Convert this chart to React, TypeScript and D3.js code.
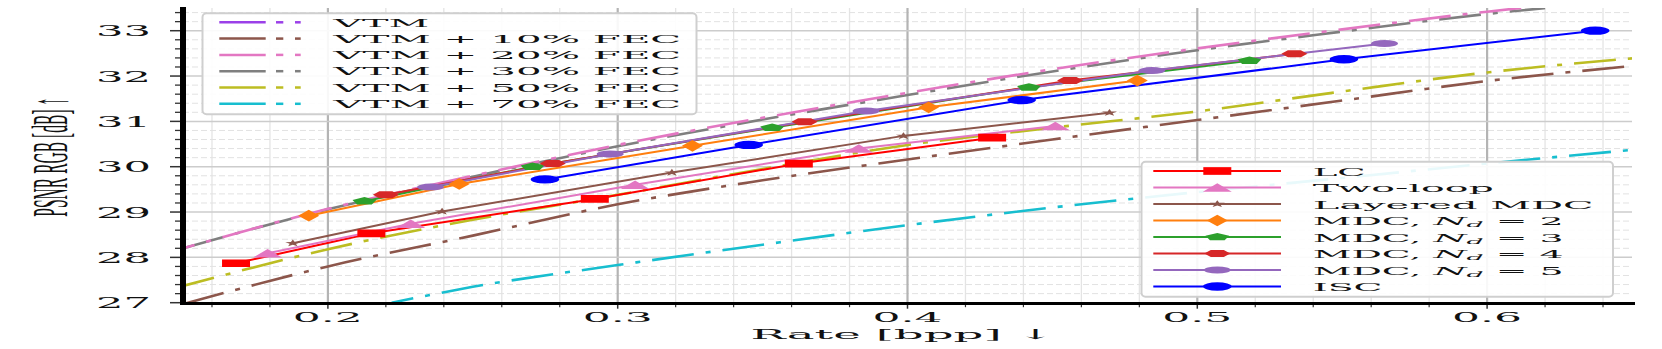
import React from 'react';
import * as d3 from 'd3';

// ---------- data ----------
const rateTicks = [0.2, 0.3, 0.4, 0.5, 0.6];
const rateTickLabels = ['0.2', '0.3', '0.4', '0.5', '0.6'];
const psnrTicks = [27, 28, 29, 30, 31, 32, 33];
const psnrTickLabels = ['27', '28', '29', '30', '31', '32', '33'];

// VTM + FEC reference curves (dash-dot)
const fec10Rate = [0.15, 0.2, 0.25, 0.3, 0.35, 0.4, 0.45, 0.5, 0.55, 0.6, 0.65];
const fec10Psnr = [26.97, 27.8, 28.48, 29.17, 29.7, 30.16, 30.6, 31.03, 31.46, 31.89, 32.22];
const fec20Rate = [0.15, 0.2, 0.25, 0.3, 0.35, 0.4, 0.45, 0.5, 0.55, 0.6, 0.62];
const fec20Psnr = [28.2, 29.07, 29.8, 30.48, 31.08, 31.63, 32.15, 32.61, 33.03, 33.42, 33.56];
const fec30Rate = [0.15, 0.2, 0.25, 0.3, 0.35, 0.4, 0.45, 0.5, 0.55, 0.6, 0.62];
const fec30Psnr = [28.2, 29.06, 29.78, 30.45, 31.04, 31.58, 32.1, 32.57, 32.98, 33.37, 33.5];
const fec50Rate = [0.15, 0.2, 0.25, 0.3, 0.35, 0.4, 0.45, 0.5, 0.55, 0.6, 0.65];
const fec50Psnr = [27.37, 28.18, 28.83, 29.38, 29.95, 30.48, 30.86, 31.22, 31.66, 32.08, 32.39];
const fec70Rate = [0.222, 0.25, 0.3, 0.35, 0.4, 0.45, 0.5, 0.55, 0.6, 0.65];
const fec70Psnr = [27.0, 27.35, 27.83, 28.28, 28.71, 29.1, 29.44, 29.75, 30.07, 30.37];

// Methods (solid lines with markers)
const lcRate = [0.1683, 0.215, 0.2921, 0.3625, 0.4292];
const lcPsnr = [27.87, 28.53, 29.29, 30.07, 30.64];
const twoLoopRate = [0.1792, 0.2286, 0.306, 0.3832, 0.451];
const twoLoopPsnr = [28.09, 28.74, 29.6, 30.4, 30.9];
const layeredRate = [0.1879, 0.2394, 0.3187, 0.3986, 0.4697];
const layeredPsnr = [28.31, 29.01, 29.87, 30.68, 31.19];
const mdc2Rate = [0.1934, 0.2453, 0.3258, 0.4073, 0.4793];
const mdc2Psnr = [28.92, 29.62, 30.46, 31.31, 31.9];
const mdc3Rate = [0.2126, 0.2706, 0.3533, 0.4419, 0.518];
const mdc3Psnr = [29.24, 30.0, 30.86, 31.75, 32.34];
const mdc4Rate = [0.22, 0.2776, 0.3645, 0.4561, 0.5335];
const mdc4Psnr = [29.38, 30.07, 30.99, 31.9, 32.49];
const mdc5Rate = [0.2354, 0.2974, 0.3857, 0.4843, 0.5646];
const mdc5Psnr = [29.55, 30.28, 31.23, 32.12, 32.72];
const iscRate = [0.2749, 0.3452, 0.4394, 0.5506, 0.6373];
const iscPsnr = [29.72, 30.48, 31.47, 32.37, 33.0];

const fecLegendLabels = ['VTM', 'VTM + 10% FEC', 'VTM + 20% FEC', 'VTM + 30% FEC', 'VTM + 50% FEC', 'VTM + 70% FEC'];
const fecLegendColors = ['#9b40e8', '#8c564b', '#e377c2', '#7f7f7f', '#bcbd22', '#17becf'];

const methodLabels = ['LC', 'Two-loop', 'Layered MDC', 'MDC2', 'MDC3', 'MDC4', 'MDC5', 'ISC'];
const methodColors = ['#ff0000', '#e377c2', '#8c564b', '#ff7f0e', '#2ca02c', '#d62728', '#9467bd', '#0000ff'];

// ---------- layout ----------
const W = 1662, H = 349;
const X0 = 183, X1 = 1632, Y0 = 302.7, Y1 = 8.05;
const FONT = "'DejaVu Serif', 'Liberation Serif', serif";

const x = d3.scaleLinear().domain([0.15, 0.65]).range([X0, X1]);
const y = d3.scaleLinear().domain([27, 33.5]).range([Y0, Y1]);

const smooth = d3.line<[number, number]>().x(d => x(d[0])).y(d => y(d[1])).curve(d3.curveMonotoneX);
const straight = d3.line<[number, number]>().x(d => x(d[0])).y(d => y(d[1]));
const zip = (a: number[], b: number[]) => a.map((v, i) => [v, b[i]] as [number, number]);

type Shape = 'square' | 'tri' | 'star' | 'diamond' | 'pent' | 'hex' | 'circle';
const poly = (n: number, start: number, r: number[]) => {
  const pts: string[] = [];
  for (let i = 0; i < n; i++) {
    const a = start + (i * 2 * Math.PI) / n;
    const rr = r[i % r.length];
    pts.push(`${(rr * Math.cos(a)).toFixed(4)},${(rr * Math.sin(a)).toFixed(4)}`);
  }
  return 'M' + pts.join('L') + 'Z';
};
const shapePath = (s: Shape) => {
  switch (s) {
    case 'square': return 'M-0.5,-0.5L0.5,-0.5L0.5,0.5L-0.5,0.5Z';
    case 'tri': return 'M0,-0.5L0.5,0.5L-0.5,0.5Z';
    case 'star': return poly(10, -Math.PI / 2, [0.5, 0.2]);
    case 'diamond': return 'M0,-0.5L0.5,0L0,0.5L-0.5,0Z';
    case 'pent': return poly(5, -Math.PI / 2, [0.5]);
    case 'hex': return poly(6, 0, [0.5]);
    default: return 'M-0.5,0A0.5,0.5 0 1,0 0.5,0A0.5,0.5 0 1,0 -0.5,0Z';
  }
};

const methods = [
  { r: lcRate, p: lcPsnr, shape: 'square' as Shape, w: 28, h: 7.7 },
  { r: twoLoopRate, p: twoLoopPsnr, shape: 'tri' as Shape, w: 29, h: 8.5 },
  { r: layeredRate, p: layeredPsnr, shape: 'star' as Shape, w: 16, h: 7.5 },
  { r: mdc2Rate, p: mdc2Psnr, shape: 'diamond' as Shape, w: 21, h: 11.7 },
  { r: mdc3Rate, p: mdc3Psnr, shape: 'pent' as Shape, w: 25, h: 8.2 },
  { r: mdc4Rate, p: mdc4Psnr, shape: 'hex' as Shape, w: 26, h: 8 },
  { r: mdc5Rate, p: mdc5Psnr, shape: 'circle' as Shape, w: 27, h: 7 },
  { r: iscRate, p: iscPsnr, shape: 'circle' as Shape, w: 28.5, h: 8.3 },
];

const fecCurves = [
  { r: fec10Rate, p: fec10Psnr, c: fecLegendColors[1], off: 0 },
  { r: fec50Rate, p: fec50Psnr, c: fecLegendColors[4], off: 10 },
  { r: fec70Rate, p: fec70Psnr, c: fecLegendColors[5], off: 20 },
  { r: fec30Rate, p: fec30Psnr, c: fecLegendColors[3], off: 0 },
  { r: fec20Rate, p: fec20Psnr, c: fecLegendColors[2], off: 30 },
];

const Marker = ({ cx, cy, shape, w, h, color }: any) => (
  <path d={shapePath(shape)} transform={`translate(${cx},${cy}) scale(${w},${h})`} fill={color} />
);

export default function App() {
  const xMinor = d3.range(0.16, 0.6401, 0.02).filter(v => Math.abs(v * 10 - Math.round(v * 10)) > 1e-6);
  const yMinor = d3.range(27.2, 33.5, 0.2).filter(v => Math.abs(v - Math.round(v)) > 1e-6);
  const legendRows = [171, 187.5, 204, 220.5, 237, 253.5, 270, 286.5];
  const legendWidths = [53, 181, 281, 251, 251, 251, 251, 70];
  const fecRows = [22.3, 38.6, 54.9, 71.2, 87.5, 103.8];

  return (
    <svg width={W} height={H} style={{ position: 'absolute', left: 0, top: 0, background: '#fff' }}>
      <defs>
        <clipPath id="plot">
          <rect x={X0} y={Y1} width={X1 - X0} height={Y0 - Y1} />
        </clipPath>
      </defs>
      <rect x={0} y={0} width={W} height={H} fill="#fff" />
      {/* grid */}
      <g>
        {xMinor.map((v, i) => (
          <line key={'xm' + i} x1={x(v)} x2={x(v)} y1={Y1} y2={Y0} stroke="#e4e4e4" strokeWidth={1.3} />
        ))}
        {yMinor.map((v, i) => (
          <line key={'ym' + i} x1={X0} x2={X1} y1={y(v)} y2={y(v)} stroke="#e2e2e2" strokeWidth={1} strokeDasharray="6 3" />
        ))}
        {rateTicks.map((v, i) => (
          <line key={'xM' + i} x1={x(v)} x2={x(v)} y1={Y1} y2={Y0} stroke="#b4b4b4" strokeWidth={2.2} />
        ))}
        {psnrTicks.map((v, i) => (
          <line key={'yM' + i} x1={X0} x2={X1} y1={y(v)} y2={y(v)} stroke="#cccccc" strokeWidth={1.5} />
        ))}
      </g>
      {/* curves */}
      <g clipPath="url(#plot)">
        {fecCurves.map((c, i) => (
          <path key={'f' + i} d={smooth(zip(c.r, c.p)) || ''} fill="none" stroke={c.c} strokeWidth={2.6}
            strokeDasharray="42 12 5 12" strokeDashoffset={c.off} />
        ))}
        {methods.map((m, i) => (
          <path key={'m' + i} d={straight(zip(m.r, m.p)) || ''} fill="none" stroke={methodColors[i]} strokeWidth={2} />
        ))}
        {methods.map((m, i) =>
          m.r.map((v, j) => (
            <Marker key={'mk' + i + '_' + j} cx={x(v)} cy={y(m.p[j])} shape={m.shape} w={m.w} h={m.h} color={methodColors[i]} />
          ))
        )}
      </g>
      {/* axes */}
      <g>
        {yMinor.map((v, i) => (
          <line key={'ytm' + i} x1={X0 - 8} x2={X0} y1={y(v)} y2={y(v)} stroke="#333" strokeWidth={1.3} />
        ))}
        {psnrTicks.map((v, i) => (
          <line key={'ytM' + i} x1={X0 - 13} x2={X0} y1={y(v)} y2={y(v)} stroke="#333" strokeWidth={1.5} />
        ))}
        {xMinor.map((v, i) => (
          <line key={'xtm' + i} x1={x(v)} x2={x(v)} y1={Y0} y2={Y0 + 4.5} stroke="#333" strokeWidth={1.2} />
        ))}
        {rateTicks.map((v, i) => (
          <line key={'xtM' + i} x1={x(v)} x2={x(v)} y1={Y0} y2={Y0 + 6} stroke="#333" strokeWidth={1.5} />
        ))}
        <line x1={X0} x2={X1 + 3} y1={Y0 + 0.8} y2={Y0 + 0.8} stroke="#000" strokeWidth={3} />
        <line x1={X0} x2={X0} y1={Y1 - 1} y2={Y0 + 2.3} stroke="#000" strokeWidth={6} />
        {psnrTicks.map((v, i) => (
          <text key={'yl' + i} x={151} y={y(v) + 5.6} textAnchor="end" fontFamily={FONT} fontSize={15}
            textLength={55} lengthAdjust="spacingAndGlyphs" fill="#111">{psnrTickLabels[i]}</text>
        ))}
        {rateTicks.map((v, i) => (
          <text key={'xl' + i} x={x(v)} y={321.8} textAnchor="middle" fontFamily={FONT} fontSize={13.8}
            textLength={70} lengthAdjust="spacingAndGlyphs" fill="#111">{rateTickLabels[i]}</text>
        ))}
        <text x={903} y={338.5} textAnchor="middle" fontFamily={FONT} fontSize={13.8}
          textLength={305} lengthAdjust="spacingAndGlyphs" fill="#111">Rate [bpp] ↓</text>
        <text transform="translate(66.7,216.7) rotate(-90) scale(1,3.3)" x={0} y={0} fontFamily="'Liberation Serif', serif"
          fontSize={15.5} textLength={119} lengthAdjust="spacingAndGlyphs" fill="#111">PSNR RGB [dB] ↑</text>
      </g>
      {/* legend 1 */}
      <g>
        <rect x={202.5} y={13.3} width={494} height={101} rx={4} fill="#fff" fillOpacity={0.9} stroke="#cfcfcf" strokeWidth={2} />
        {fecLegendLabels.map((lab, i) => (
          <g key={'fl' + i}>
            <line x1={219.3} x2={265.7} y1={fecRows[i]} y2={fecRows[i]} stroke={fecLegendColors[i]} strokeWidth={2.5} />
            <line x1={276} x2={283.3} y1={fecRows[i]} y2={fecRows[i]} stroke={fecLegendColors[i]} strokeWidth={2.5} />
            <line x1={295} x2={300.7} y1={fecRows[i]} y2={fecRows[i]} stroke={fecLegendColors[i]} strokeWidth={2.5} />
            <text x={333.3} y={fecRows[i] + 4.2} fontFamily={FONT} fontSize={11.5}
              textLength={i === 0 ? 96 : 348} lengthAdjust="spacingAndGlyphs" fill="#111">{lab}</text>
          </g>
        ))}
      </g>
      {/* legend 2 */}
      <g>
        <rect x={1141.5} y={161.7} width={471.5} height={135} rx={4} fill="#fff" fillOpacity={0.9} stroke="#cfcfcf" strokeWidth={2} />
        {methods.map((m, i) => (
          <g key={'ml' + i}>
            <line x1={1153.3} x2={1281} y1={legendRows[i]} y2={legendRows[i]} stroke={methodColors[i]} strokeWidth={2} />
            <Marker cx={1217.3} cy={legendRows[i]} shape={m.shape} w={m.w} h={m.h} color={methodColors[i]} />
            <text x={1312.7} y={legendRows[i] + 4.8} fontFamily={FONT} fontSize={10.6}
              textLength={legendWidths[i]} lengthAdjust="spacingAndGlyphs" fill="#111">
              {i >= 3 && i <= 6 ? (
                <>
                  {'MDC, '}
                  <tspan fontStyle="italic">N</tspan>
                  <tspan fontStyle="italic" fontSize={7.5} dy={2}>d</tspan>
                  <tspan dy={-2}>{' = ' + methodLabels[i].slice(3)}</tspan>
                </>
              ) : (
                methodLabels[i]
              )}
            </text>
          </g>
        ))}
      </g>
    </svg>
  );
}
